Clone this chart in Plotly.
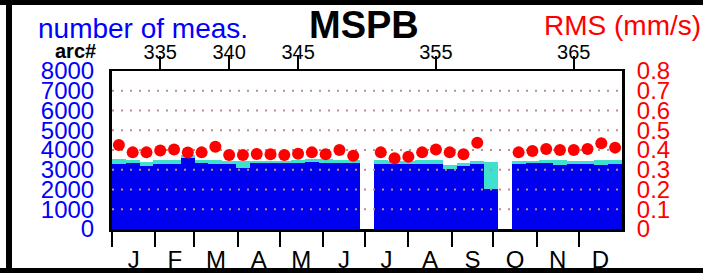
import plotly.graph_objects as go

# ---- data ----
arcs = list(range(332, 350)) + list(range(351, 360)) + list(range(361, 369))
n_total = [3527, 3510, 3409, 3477, 3510, 3747, 3494, 3494, 3460, 3443, 3443, 3460, 3460, 3494, 3527, 3527, 3494, 3494,
           3494, 3460, 3460, 3494, 3494, 3240, 3358, 3460, 3409,
           3443, 3460, 3477, 3477, 3460, 3460, 3510, 3477]
n_used = [3291, 3325, 3207, 3274, 3308, 3578, 3325, 3308, 3291, 3072, 3325, 3325, 3342, 3358, 3375, 3358, 3342, 3325,
          3291, 3291, 3274, 3291, 3274, 3021, 3207, 3291, 2050,
          3291, 3325, 3325, 3240, 3291, 3291, 3240, 3308]
rms = [0.425, 0.388, 0.388, 0.397, 0.403, 0.387, 0.388, 0.417, 0.375, 0.375, 0.380, 0.378, 0.375, 0.381, 0.388, 0.378, 0.400, 0.371,
       0.388, 0.358, 0.366, 0.388, 0.403, 0.388, 0.378, 0.437, None,
       0.388, 0.395, 0.405, 0.400, 0.400, 0.405, 0.434, 0.412]
arc_ticks = [335, 340, 345, 355, 365]
month_labels = ["J", "F", "M", "A", "M", "J", "J", "A", "S", "O", "N", "D"]
month_days = [31, 28, 31, 30, 31, 30, 31, 31, 30, 31, 30, 31]
left_ticks = [0, 1000, 2000, 3000, 4000, 5000, 6000, 7000, 8000]
right_ticks = [0, 0.1, 0.2, 0.3, 0.4, 0.5, 0.6, 0.7, 0.8]
grid_vals = [1000, 2000, 3000, 4000, 5000, 6000, 7000]

W, H = 703, 273
ML, MR, MT, MB = 112, 81, 71, 44
PW, PH = W - ML - MR, H - MT - MB


def px(x):
    return (x - ML) / PW


def py(y):
    return (H - MB - y) / PH


bounds = [0]
for d in month_days:
    bounds.append(bounds[-1] + d)
mids = [(bounds[i] + bounds[i + 1]) / 2 for i in range(12)]

xr = [min(arcs) - 0.5, max(arcs) + 0.5]

fig = go.Figure()
fig.add_trace(go.Bar(x=arcs, y=n_total, width=1, marker=dict(color="#40e0d0", line=dict(width=0)),
                     showlegend=False, hoverinfo="skip"))
fig.add_trace(go.Bar(x=arcs, y=n_used, width=1, marker=dict(color="#0000f0", line=dict(width=0)),
                     showlegend=False, hoverinfo="skip"))
for g in grid_vals:
    fig.add_trace(go.Scatter(x=xr, y=[g, g], mode="lines",
                             line=dict(color="#bc8f8f", width=2, dash="2px,7px"),
                             showlegend=False, hoverinfo="skip"))
fig.add_trace(go.Scatter(x=arcs, y=rms, mode="markers", yaxis="y2",
                         marker=dict(color="#ff0000", size=12, line=dict(width=0)),
                         showlegend=False, hoverinfo="skip"))
# month axis carrier
fig.add_trace(go.Scatter(x=[bounds[0], bounds[-1]], y=[None, None], xaxis="x2", mode="markers",
                         showlegend=False, hoverinfo="skip"))

font = "Liberation Sans, Arial, sans-serif"

fig.update_layout(
    width=W, height=H,
    margin=dict(l=ML, r=MR, t=MT, b=MB, pad=0),
    paper_bgcolor="white", plot_bgcolor="white",
    barmode="overlay", bargap=0,
    font=dict(family=font, color="black"),
    xaxis=dict(side="top", range=xr, tickmode="array", tickvals=arc_ticks, automargin=False,
               ticktext=[str(a) for a in arc_ticks], ticks="outside", ticklen=13, tickwidth=2,
               tickcolor="black", showline=True, linewidth=2, linecolor="black",
               showgrid=False, zeroline=False, tickfont=dict(size=20, color="black"),
               ticklabelstandoff=-11),
    xaxis2=dict(overlaying="x", side="bottom", anchor="y", range=[bounds[0], bounds[-1]],
                automargin=False,
                tickmode="array", tickvals=mids, ticktext=month_labels, ticks="",
                showline=True, linewidth=3, linecolor="black", showgrid=False, zeroline=False,
                tickfont=dict(size=24, color="black"), ticklabelstandoff=7,
                minor=dict(tickmode="array", tickvals=bounds[:-1], ticks="outside", ticklen=15,
                           tickwidth=2, tickcolor="black", showgrid=False)),
    yaxis=dict(range=[0, 8000], tickmode="array", tickvals=left_ticks, automargin=False,
               ticktext=[str(v) for v in left_ticks], ticks="outside", ticklen=10,
               tickcolor="rgba(0,0,0,0)", showline=True, linewidth=3,
               linecolor="black", showgrid=False, zeroline=False,
               tickfont=dict(size=24, color="#0000ff")),
    yaxis2=dict(overlaying="y", side="right", anchor="x", range=[0, 0.8], tickmode="array",
                automargin=False,
                tickvals=right_ticks, ticktext=[str(v) for v in right_ticks], ticks="outside",
                ticklen=7, tickcolor="rgba(0,0,0,0)",
                showline=True, linewidth=3, linecolor="black", showgrid=False, zeroline=False,
                tickfont=dict(size=24, color="#ff0000")),
    annotations=[
        dict(text="number of meas.", xref="paper", yref="paper", x=px(36), y=py(29),
             xanchor="left", yanchor="middle", showarrow=False,
             font=dict(size=28, color="#0000ff", family=font)),
        dict(text="<b>MSPB</b>", xref="paper", yref="paper", x=px(364), y=py(25),
             xanchor="center", yanchor="middle", showarrow=False,
             font=dict(size=38, color="black", family=font)),
        dict(text="RMS (mm/s)", xref="paper", yref="paper", x=px(542), y=py(25),
             xanchor="left", yanchor="middle", showarrow=False,
             font=dict(size=28, color="#ff0000", family=font)),
        dict(text="<b>arc#</b>", xref="paper", yref="paper", x=px(75), y=py(51),
             xanchor="center", yanchor="middle", showarrow=False,
             font=dict(size=20, color="black", family=font)),
    ],
    shapes=[
        dict(type="rect", xref="paper", yref="paper", x0=px(0), x1=px(W), y0=py(0), y1=py(5),
             fillcolor="black", line=dict(width=0), layer="above"),
        dict(type="rect", xref="paper", yref="paper", x0=px(6), x1=px(12), y0=py(0), y1=py(H),
             fillcolor="black", line=dict(width=0), layer="above"),
        dict(type="rect", xref="paper", yref="paper", x0=px(0), x1=px(W), y0=py(268), y1=py(H),
             fillcolor="black", line=dict(width=0), layer="above"),
    ],
)

fig.write_html("out.html", config={"displayModeBar": False},
               post_script="document.body.style.margin='0';document.body.style.overflow='hidden';")
